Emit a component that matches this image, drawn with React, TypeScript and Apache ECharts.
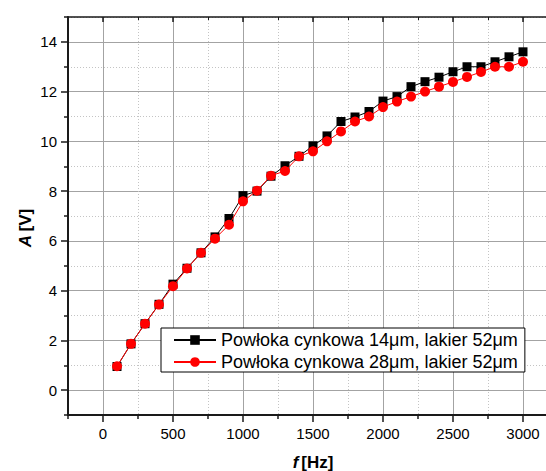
import React, { useEffect, useRef } from "react";
import * as echarts from "echarts";

// Frequency sweep [Hz]
const freq = [
  100, 200, 300, 400, 500, 600, 700, 800, 900, 1000,
  1100, 1200, 1300, 1400, 1500, 1600, 1700, 1800, 1900, 2000,
  2100, 2200, 2300, 2400, 2500, 2600, 2700, 2800, 2900, 3000,
];

// Amplitude [V], zinc coating 14 µm, lacquer 52 µm
const ampZn14 = [
  0.95, 1.86, 2.67, 3.45, 4.26, 4.9, 5.52, 6.16, 6.9, 7.82,
  8.0, 8.6, 9.02, 9.4, 9.82, 10.22, 10.8, 10.98, 11.2, 11.62,
  11.8, 12.2, 12.4, 12.58, 12.8, 13.0, 13.0, 13.2, 13.4, 13.6,
];

// Amplitude [V], zinc coating 28 µm, lacquer 52 µm
const ampZn28 = [
  0.96, 1.86, 2.67, 3.44, 4.18, 4.89, 5.52, 6.09, 6.65, 7.59,
  8.02, 8.62, 8.81, 9.4, 9.6, 10.0, 10.4, 10.8, 11.0, 11.38,
  11.6, 11.8, 12.0, 12.2, 12.39, 12.59, 12.79, 13.0, 13.0, 13.2,
];

const seriesNames = [
  "Powłoka cynkowa 14μm, lakier 52μm",
  "Powłoka cynkowa 28μm, lakier 52μm",
];

const xMajor = [0, 500, 1000, 1500, 2000, 2500, 3000];
const xMinor = [-250, 250, 750, 1250, 1750, 2250, 2750, 3250];
const yMajor = [0, 2, 4, 6, 8, 10, 12, 14];
const yMinor = [-1, 1, 3, 5, 7, 9, 11, 13, 15];

const FONT = 'Arial, "Liberation Sans", sans-serif';
const AXIS = "#1a1a1a";

export default function App() {
  const ref = useRef<HTMLDivElement>(null);

  useEffect(() => {
    if (!ref.current) return;
    const chart = echarts.init(ref.current, undefined, { renderer: "svg" });

    const xBase = { type: "value", min: -250, max: 3250, gridIndex: 0 };
    const yBase = { type: "value", min: -1, max: 15, gridIndex: 0 };
    const majorGrid = { show: true, lineStyle: { color: "#a3a3a3", width: 1, type: "solid" } };
    const minorGrid = { show: true, lineStyle: { color: "#c4c4c4", width: 1, type: [1, 2] } };
    const line = { show: true, onZero: false, lineStyle: { color: AXIS, width: 2 } };
    const hiddenLine = { show: false, onZero: false };
    const label = {
      show: true,
      color: "#000",
      fontSize: 15,
      fontFamily: FONT,
      formatter: (v: number) => String(v),
    };

    const option: any = {
      animation: false,
      backgroundColor: "#fff",
      // the plot frame runs past the right edge of the window
      grid: { left: 68, top: 17, width: 490, height: 398, outerBoundsMode: "none" },
      xAxis: [
        {
          ...xBase,
          position: "bottom",
          axisLine: line,
          axisTick: { show: true, length: 7, customValues: xMajor, lineStyle: { color: AXIS, width: 1.5 } },
          axisLabel: { ...label, margin: 11, customValues: xMajor },
          splitLine: majorGrid,
        },
        {
          ...xBase,
          position: "bottom",
          axisLine: hiddenLine,
          axisTick: { show: true, length: 4, customValues: xMinor, lineStyle: { color: AXIS, width: 1.5 } },
          axisLabel: { show: false },
          splitLine: minorGrid,
        },
        {
          ...xBase,
          position: "top",
          axisLine: { ...line, lineStyle: { color: AXIS, width: 1.5 } },
          axisTick: { show: true, inside: true, length: 5, customValues: xMajor, lineStyle: { color: AXIS, width: 1.5 } },
          axisLabel: { show: false },
          splitLine: { show: false },
        },
        {
          ...xBase,
          position: "top",
          axisLine: hiddenLine,
          axisTick: { show: true, inside: true, length: 3, customValues: xMinor, lineStyle: { color: AXIS, width: 1 } },
          axisLabel: { show: false },
          splitLine: { show: false },
        },
      ],
      yAxis: [
        {
          ...yBase,
          position: "left",
          axisLine: line,
          axisTick: { show: true, length: 7, customValues: yMajor, lineStyle: { color: AXIS, width: 1.5 } },
          axisLabel: { ...label, margin: 11, customValues: yMajor },
          splitLine: majorGrid,
        },
        {
          ...yBase,
          position: "left",
          axisLine: hiddenLine,
          axisTick: { show: true, length: 4, customValues: yMinor, lineStyle: { color: AXIS, width: 1.5 } },
          axisLabel: { show: false },
          splitLine: minorGrid,
        },
      ],
      legend: {
        orient: "vertical",
        left: 161,
        top: 328,
        backgroundColor: "#fff",
        borderColor: "#000",
        borderWidth: 1,
        borderRadius: 0,
        padding: [3, 7, 1, 12],
        itemGap: 4,
        itemWidth: 42,
        itemHeight: 12,
        textStyle: { color: "#000", fontSize: 18, fontFamily: FONT },
        data: seriesNames,
      },
      graphic: [
        {
          type: "text",
          x: 313,
          y: 462,
          style: {
            text: "{i|f}{b|[Hz]}",
            align: "center",
            verticalAlign: "middle",
            rich: {
              i: { fontSize: 17, fontWeight: "bold", fontStyle: "italic", fontFamily: FONT, fill: "#000", padding: [0, 3, 0, 0] },
              b: { fontSize: 17, fontWeight: "bold", fontFamily: FONT, fill: "#000" },
            },
          },
        },
        {
          type: "text",
          x: 25,
          y: 228,
          rotation: Math.PI / 2,
          style: {
            text: "{i|A} {b|[V]}",
            align: "center",
            verticalAlign: "middle",
            rich: {
              i: { fontSize: 17, fontWeight: "bold", fontStyle: "italic", fontFamily: FONT, fill: "#000" },
              b: { fontSize: 17, fontWeight: "bold", fontFamily: FONT, fill: "#000" },
            },
          },
        },
      ],
      series: [
        {
          name: seriesNames[0],
          type: "line",
          xAxisIndex: 0,
          yAxisIndex: 0,
          data: freq.map((f, i) => [f, ampZn14[i]]),
          symbol: "rect",
          symbolSize: 9,
          itemStyle: { color: "#000" },
          lineStyle: { color: "#000", width: 1 },
          z: 3,
        },
        {
          name: seriesNames[1],
          type: "line",
          xAxisIndex: 0,
          yAxisIndex: 0,
          data: freq.map((f, i) => [f, ampZn28[i]]),
          symbol: "circle",
          symbolSize: 10,
          itemStyle: { color: "#ff0000" },
          lineStyle: { color: "#ff0000", width: 1 },
          z: 4,
        },
      ],
    };

    chart.setOption(option);
    return () => chart.dispose();
  }, []);

  return (
    <div
      ref={ref}
      style={{
        position: "fixed",
        left: 0,
        top: 0,
        width: 600,
        height: 471,
        background: "#fff",
      }}
    />
  );
}
